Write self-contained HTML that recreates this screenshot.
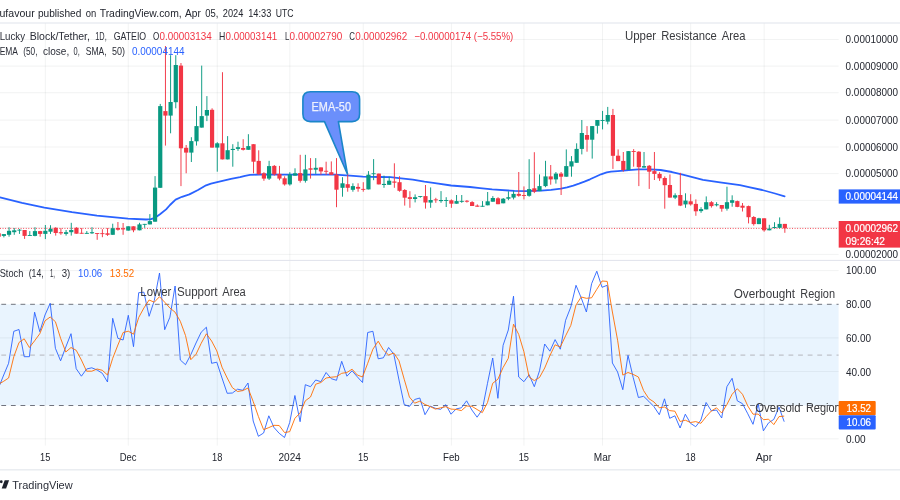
<!DOCTYPE html><html><head><meta charset="utf-8"><title>chart</title>
<style>html,body{margin:0;padding:0;background:#fff;}body{width:900px;height:500px;overflow:hidden;}svg{display:block;font-family:"Liberation Sans",sans-serif;}</style></head><body>
<svg width="900" height="500" viewBox="0 0 900 500">
<rect x="0" y="0" width="900" height="500" fill="#fff"/>
<defs><filter id="bl" x="-20" y="-20" width="940" height="540" filterUnits="userSpaceOnUse" color-interpolation-filters="sRGB"><feGaussianBlur stdDeviation="0.38"/></filter></defs>
<g filter="url(#bl)">
<rect x="-20" y="-20" width="940" height="540" fill="#fff"/>
<rect x="0" y="304.3" width="838.6" height="101.2" fill="#e9f4fe"/>
<rect x="44.84" y="23" width="1" height="422.6" fill="#2a2e39" fill-opacity="0.06"/>
<rect x="127.78" y="23" width="1" height="422.6" fill="#2a2e39" fill-opacity="0.06"/>
<rect x="216.76" y="23" width="1" height="422.6" fill="#2a2e39" fill-opacity="0.06"/>
<rect x="289.33" y="23" width="1" height="422.6" fill="#2a2e39" fill-opacity="0.06"/>
<rect x="362.76" y="23" width="1" height="422.6" fill="#2a2e39" fill-opacity="0.06"/>
<rect x="450.88" y="23" width="1" height="422.6" fill="#2a2e39" fill-opacity="0.06"/>
<rect x="523.45" y="23" width="1" height="422.6" fill="#2a2e39" fill-opacity="0.06"/>
<rect x="602.06" y="23" width="1" height="422.6" fill="#2a2e39" fill-opacity="0.06"/>
<rect x="690.18" y="23" width="1" height="422.6" fill="#2a2e39" fill-opacity="0.06"/>
<rect x="763.61" y="23" width="1" height="422.6" fill="#2a2e39" fill-opacity="0.06"/>
<rect x="0" y="39.00" width="838.6" height="1" fill="#2a2e39" fill-opacity="0.06"/>
<rect x="0" y="65.60" width="838.6" height="1" fill="#2a2e39" fill-opacity="0.06"/>
<rect x="0" y="92.20" width="838.6" height="1" fill="#2a2e39" fill-opacity="0.06"/>
<rect x="0" y="119.60" width="838.6" height="1" fill="#2a2e39" fill-opacity="0.06"/>
<rect x="0" y="146.50" width="838.6" height="1" fill="#2a2e39" fill-opacity="0.06"/>
<rect x="0" y="173.10" width="838.6" height="1" fill="#2a2e39" fill-opacity="0.06"/>
<rect x="0" y="199.90" width="838.6" height="1" fill="#2a2e39" fill-opacity="0.06"/>
<rect x="0" y="226.90" width="838.6" height="1" fill="#2a2e39" fill-opacity="0.06"/>
<rect x="0" y="253.90" width="838.6" height="1" fill="#2a2e39" fill-opacity="0.06"/>
<rect x="0" y="270.10" width="838.6" height="1" fill="#2a2e39" fill-opacity="0.06"/>
<rect x="0" y="337.40" width="838.6" height="1" fill="#2a2e39" fill-opacity="0.06"/>
<rect x="0" y="371.00" width="838.6" height="1" fill="#2a2e39" fill-opacity="0.06"/>
<rect x="0" y="438.30" width="838.6" height="1" fill="#2a2e39" fill-opacity="0.06"/>
<rect x="0" y="22.5" width="900" height="1" fill="#e0e3eb"/>
<rect x="0" y="259.9" width="900" height="1" fill="#e0e3eb"/>
<rect x="0" y="469.3" width="900" height="1.1" fill="#e2e5ec"/>
<line x1="1.3" y1="304.3" x2="838.6" y2="304.3" stroke="#70737e" stroke-width="1" stroke-dasharray="4.8 4.8"/>
<line x1="1.3" y1="405.5" x2="838.6" y2="405.5" stroke="#70737e" stroke-width="1" stroke-dasharray="4.8 4.8"/>
<line x1="1.3" y1="355.1" x2="838.6" y2="355.1" stroke="#b4b6bd" stroke-width="1" stroke-dasharray="4.8 4.8"/>
<line x1="0" y1="228.4" x2="838.6" y2="228.4" stroke="#f23645" stroke-width="1" stroke-dasharray="0.9 1.68"/>
<polyline points="-2.0,197.0 0.0,197.4 22.0,202.8 44.4,207.6 72.0,212.2 97.0,215.7 128.0,218.6 146.0,219.5 151.0,219.2 155.0,217.8 160.0,214.3 166.1,209.4 170.0,205.0 175.6,199.6 182.0,196.8 189.4,194.4 198.0,190.0 206.1,185.3 211.0,183.6 217.2,182.2 231.0,178.9 240.0,177.2 245.0,175.8 250.0,174.9 260.0,174.5 280.0,174.7 300.0,174.6 320.0,174.6 335.0,174.7 350.0,175.7 362.8,176.7 380.0,177.0 390.6,177.2 398.9,178.1 412.8,179.6 424.4,181.7 435.0,183.1 451.1,185.5 470.0,187.0 480.0,188.2 492.2,189.4 514.4,190.9 525.6,191.1 541.1,190.6 551.0,189.8 561.0,188.7 567.0,187.4 573.3,185.6 579.0,183.7 584.4,181.7 590.0,179.3 595.6,176.7 601.0,174.3 606.7,172.4 611.0,171.7 617.8,171.1 628.9,170.2 638.3,169.4 650.0,169.3 660.6,170.0 672.0,172.0 682.8,174.6 703.0,179.8 720.0,182.4 740.0,185.2 750.0,187.4 762.2,190.0 775.0,193.5 784.6,196.3" fill="none" stroke="#2962ff" stroke-width="1.8" stroke-linejoin="round" stroke-linecap="round"/>
<rect x="-1.79" y="233.3" width="0.95" height="3.4" fill="#f23645"/>
<rect x="-3.41" y="233.3" width="4.2" height="3.4" fill="#f23645"/>
<rect x="3.40" y="234.1" width="0.95" height="3.3" fill="#089981"/>
<rect x="1.77" y="234.1" width="4.2" height="1.8" fill="#089981"/>
<rect x="8.58" y="227.2" width="0.95" height="9.5" fill="#089981"/>
<rect x="6.96" y="230.8" width="4.2" height="4.0" fill="#089981"/>
<rect x="13.77" y="228.0" width="0.95" height="6.8" fill="#089981"/>
<rect x="12.14" y="230.3" width="4.2" height="1.9" fill="#089981"/>
<rect x="18.95" y="228.9" width="0.95" height="5.0" fill="#089981"/>
<rect x="17.32" y="229.7" width="4.2" height="0.9" fill="#089981"/>
<rect x="24.13" y="230.0" width="0.95" height="8.9" fill="#f23645"/>
<rect x="22.51" y="230.0" width="4.2" height="5.9" fill="#f23645"/>
<rect x="29.32" y="231.1" width="0.95" height="4.7" fill="#089981"/>
<rect x="27.69" y="235.0" width="4.2" height="0.9" fill="#089981"/>
<rect x="34.50" y="227.2" width="0.95" height="9.1" fill="#089981"/>
<rect x="32.87" y="231.1" width="4.2" height="4.8" fill="#089981"/>
<rect x="39.68" y="230.8" width="0.95" height="5.9" fill="#f23645"/>
<rect x="38.06" y="231.1" width="4.2" height="2.8" fill="#f23645"/>
<rect x="44.87" y="225.0" width="0.95" height="14.1" fill="#089981"/>
<rect x="43.24" y="230.8" width="4.2" height="3.1" fill="#089981"/>
<rect x="50.05" y="225.2" width="0.95" height="8.7" fill="#089981"/>
<rect x="48.43" y="228.9" width="4.2" height="2.8" fill="#089981"/>
<rect x="55.23" y="227.2" width="0.95" height="8.4" fill="#f23645"/>
<rect x="53.61" y="227.8" width="4.2" height="5.2" fill="#f23645"/>
<rect x="60.42" y="228.1" width="0.95" height="6.7" fill="#f23645"/>
<rect x="58.79" y="232.2" width="4.2" height="1.1" fill="#f23645"/>
<rect x="65.60" y="230.0" width="0.95" height="5.6" fill="#089981"/>
<rect x="63.98" y="232.2" width="4.2" height="1.7" fill="#089981"/>
<rect x="70.78" y="222.8" width="0.95" height="12.8" fill="#089981"/>
<rect x="69.16" y="230.0" width="4.2" height="2.2" fill="#089981"/>
<rect x="75.97" y="227.2" width="0.95" height="6.5" fill="#f23645"/>
<rect x="74.34" y="227.8" width="4.2" height="5.9" fill="#f23645"/>
<rect x="81.15" y="228.1" width="0.95" height="5.6" fill="#f23645"/>
<rect x="79.53" y="232.8" width="4.2" height="0.9" fill="#f23645"/>
<rect x="86.34" y="231.1" width="0.95" height="2.6" fill="#089981"/>
<rect x="84.71" y="232.9" width="4.2" height="0.9" fill="#089981"/>
<rect x="91.52" y="227.2" width="0.95" height="6.7" fill="#089981"/>
<rect x="89.89" y="232.2" width="4.2" height="1.1" fill="#089981"/>
<rect x="96.70" y="233.1" width="0.95" height="6.7" fill="#f23645"/>
<rect x="95.08" y="233.1" width="4.2" height="0.9" fill="#f23645"/>
<rect x="101.89" y="229.2" width="0.95" height="8.0" fill="#f23645"/>
<rect x="100.26" y="233.2" width="4.2" height="0.9" fill="#f23645"/>
<rect x="107.07" y="228.1" width="0.95" height="7.8" fill="#f23645"/>
<rect x="105.45" y="233.3" width="4.2" height="1.5" fill="#f23645"/>
<rect x="112.25" y="223.7" width="0.95" height="11.1" fill="#089981"/>
<rect x="110.63" y="228.3" width="4.2" height="6.5" fill="#089981"/>
<rect x="117.44" y="222.0" width="0.95" height="8.6" fill="#f23645"/>
<rect x="115.81" y="228.0" width="4.2" height="1.7" fill="#f23645"/>
<rect x="122.62" y="223.0" width="0.95" height="11.8" fill="#f23645"/>
<rect x="121.00" y="228.3" width="4.2" height="1.1" fill="#f23645"/>
<rect x="127.80" y="226.3" width="0.95" height="4.3" fill="#089981"/>
<rect x="126.18" y="226.3" width="4.2" height="4.3" fill="#089981"/>
<rect x="132.99" y="226.3" width="0.95" height="5.9" fill="#f23645"/>
<rect x="131.36" y="226.3" width="4.2" height="4.0" fill="#f23645"/>
<rect x="139.03" y="222.8" width="0.95" height="7.5" fill="#089981"/>
<rect x="137.40" y="224.4" width="4.2" height="5.9" fill="#089981"/>
<rect x="144.21" y="223.9" width="0.95" height="3.9" fill="#089981"/>
<rect x="142.59" y="223.9" width="4.2" height="0.9" fill="#089981"/>
<rect x="149.40" y="214.1" width="0.95" height="10.3" fill="#089981"/>
<rect x="147.77" y="221.1" width="4.2" height="3.3" fill="#089981"/>
<rect x="154.58" y="176.1" width="0.95" height="45.6" fill="#089981"/>
<rect x="152.96" y="187.6" width="4.2" height="34.1" fill="#089981"/>
<rect x="159.76" y="103.9" width="0.95" height="83.9" fill="#089981"/>
<rect x="158.14" y="106.1" width="4.2" height="81.7" fill="#089981"/>
<rect x="164.95" y="46.0" width="0.95" height="99.6" fill="#f23645"/>
<rect x="163.32" y="111.1" width="4.2" height="4.5" fill="#f23645"/>
<rect x="170.13" y="55.2" width="0.95" height="78.1" fill="#089981"/>
<rect x="168.51" y="102.0" width="4.2" height="13.6" fill="#089981"/>
<rect x="175.31" y="55.2" width="0.95" height="53.1" fill="#089981"/>
<rect x="173.69" y="65.0" width="4.2" height="37.2" fill="#089981"/>
<rect x="180.50" y="63.0" width="0.95" height="123.1" fill="#f23645"/>
<rect x="178.87" y="65.6" width="4.2" height="82.7" fill="#f23645"/>
<rect x="185.68" y="145.0" width="0.95" height="28.3" fill="#f23645"/>
<rect x="184.06" y="147.8" width="4.2" height="4.8" fill="#f23645"/>
<rect x="190.87" y="137.2" width="0.95" height="24.8" fill="#089981"/>
<rect x="189.24" y="141.1" width="4.2" height="11.5" fill="#089981"/>
<rect x="196.05" y="106.1" width="0.95" height="39.5" fill="#089981"/>
<rect x="194.42" y="126.1" width="4.2" height="15.2" fill="#089981"/>
<rect x="201.23" y="65.6" width="0.95" height="62.0" fill="#089981"/>
<rect x="199.61" y="116.1" width="4.2" height="11.5" fill="#089981"/>
<rect x="206.42" y="96.1" width="0.95" height="25.0" fill="#089981"/>
<rect x="204.79" y="110.0" width="4.2" height="5.6" fill="#089981"/>
<rect x="211.60" y="108.3" width="0.95" height="39.3" fill="#f23645"/>
<rect x="209.97" y="109.8" width="4.2" height="37.8" fill="#f23645"/>
<rect x="216.78" y="142.2" width="0.95" height="29.5" fill="#089981"/>
<rect x="215.16" y="143.3" width="4.2" height="4.3" fill="#089981"/>
<rect x="221.97" y="72.2" width="0.95" height="87.2" fill="#f23645"/>
<rect x="220.34" y="143.3" width="4.2" height="16.1" fill="#f23645"/>
<rect x="227.15" y="136.1" width="0.95" height="23.3" fill="#089981"/>
<rect x="225.53" y="150.2" width="4.2" height="9.2" fill="#089981"/>
<rect x="232.33" y="144.2" width="0.95" height="22.5" fill="#089981"/>
<rect x="230.71" y="148.9" width="4.2" height="1.1" fill="#089981"/>
<rect x="237.52" y="141.7" width="0.95" height="9.2" fill="#089981"/>
<rect x="235.89" y="147.2" width="4.2" height="1.7" fill="#089981"/>
<rect x="242.70" y="139.2" width="0.95" height="11.3" fill="#f23645"/>
<rect x="241.08" y="148.0" width="4.2" height="1.8" fill="#f23645"/>
<rect x="247.89" y="134.2" width="0.95" height="15.6" fill="#089981"/>
<rect x="246.26" y="146.1" width="4.2" height="3.7" fill="#089981"/>
<rect x="253.07" y="144.2" width="0.95" height="29.1" fill="#f23645"/>
<rect x="251.44" y="144.2" width="4.2" height="17.5" fill="#f23645"/>
<rect x="258.25" y="150.3" width="0.95" height="24.7" fill="#f23645"/>
<rect x="256.63" y="160.9" width="4.2" height="13.2" fill="#f23645"/>
<rect x="263.44" y="172.2" width="0.95" height="8.6" fill="#f23645"/>
<rect x="261.81" y="173.3" width="4.2" height="5.3" fill="#f23645"/>
<rect x="268.62" y="160.8" width="0.95" height="19.2" fill="#089981"/>
<rect x="266.99" y="166.1" width="4.2" height="12.5" fill="#089981"/>
<rect x="273.80" y="165.0" width="0.95" height="10.6" fill="#f23645"/>
<rect x="272.18" y="165.9" width="4.2" height="8.5" fill="#f23645"/>
<rect x="278.99" y="165.9" width="0.95" height="14.4" fill="#f23645"/>
<rect x="277.36" y="173.9" width="4.2" height="4.7" fill="#f23645"/>
<rect x="284.17" y="176.3" width="0.95" height="9.3" fill="#f23645"/>
<rect x="282.55" y="178.3" width="4.2" height="6.1" fill="#f23645"/>
<rect x="289.35" y="172.2" width="0.95" height="13.4" fill="#089981"/>
<rect x="287.73" y="174.4" width="4.2" height="10.0" fill="#089981"/>
<rect x="294.54" y="168.3" width="0.95" height="7.3" fill="#089981"/>
<rect x="292.91" y="173.3" width="4.2" height="2.3" fill="#089981"/>
<rect x="299.72" y="154.8" width="0.95" height="27.8" fill="#f23645"/>
<rect x="298.10" y="173.1" width="4.2" height="7.7" fill="#f23645"/>
<rect x="304.90" y="154.8" width="0.95" height="27.8" fill="#089981"/>
<rect x="303.28" y="169.4" width="4.2" height="11.4" fill="#089981"/>
<rect x="310.09" y="158.1" width="0.95" height="20.5" fill="#f23645"/>
<rect x="308.46" y="168.3" width="4.2" height="1.4" fill="#f23645"/>
<rect x="315.27" y="158.1" width="0.95" height="15.8" fill="#089981"/>
<rect x="313.65" y="167.8" width="4.2" height="1.9" fill="#089981"/>
<rect x="320.46" y="167.4" width="0.95" height="7.4" fill="#f23645"/>
<rect x="318.83" y="167.4" width="4.2" height="4.0" fill="#f23645"/>
<rect x="325.64" y="161.7" width="0.95" height="13.1" fill="#f23645"/>
<rect x="324.01" y="170.8" width="4.2" height="0.9" fill="#f23645"/>
<rect x="330.82" y="161.4" width="0.95" height="13.4" fill="#f23645"/>
<rect x="329.20" y="172.2" width="4.2" height="2.6" fill="#f23645"/>
<rect x="336.01" y="158.1" width="0.95" height="49.1" fill="#f23645"/>
<rect x="334.38" y="174.6" width="4.2" height="15.1" fill="#f23645"/>
<rect x="342.05" y="177.2" width="0.95" height="19.5" fill="#089981"/>
<rect x="340.42" y="183.3" width="4.2" height="4.5" fill="#089981"/>
<rect x="347.23" y="173.3" width="0.95" height="18.4" fill="#f23645"/>
<rect x="345.61" y="184.2" width="4.2" height="3.6" fill="#f23645"/>
<rect x="352.42" y="183.3" width="0.95" height="8.4" fill="#089981"/>
<rect x="350.79" y="186.1" width="4.2" height="3.7" fill="#089981"/>
<rect x="357.60" y="183.3" width="0.95" height="8.4" fill="#f23645"/>
<rect x="355.97" y="186.9" width="4.2" height="1.8" fill="#f23645"/>
<rect x="362.78" y="182.2" width="0.95" height="9.5" fill="#f23645"/>
<rect x="361.16" y="188.9" width="4.2" height="0.9" fill="#f23645"/>
<rect x="367.97" y="171.1" width="0.95" height="18.3" fill="#089981"/>
<rect x="366.34" y="174.7" width="4.2" height="14.7" fill="#089981"/>
<rect x="373.15" y="159.1" width="0.95" height="21.1" fill="#089981"/>
<rect x="371.52" y="173.3" width="4.2" height="0.9" fill="#089981"/>
<rect x="378.33" y="173.6" width="0.95" height="10.8" fill="#f23645"/>
<rect x="376.71" y="173.6" width="4.2" height="10.8" fill="#f23645"/>
<rect x="383.52" y="175.6" width="0.95" height="12.2" fill="#089981"/>
<rect x="381.89" y="183.9" width="4.2" height="1.1" fill="#089981"/>
<rect x="388.70" y="176.5" width="0.95" height="8.3" fill="#089981"/>
<rect x="387.08" y="180.7" width="4.2" height="4.1" fill="#089981"/>
<rect x="393.88" y="163.3" width="0.95" height="24.5" fill="#f23645"/>
<rect x="392.26" y="181.5" width="4.2" height="1.2" fill="#f23645"/>
<rect x="399.07" y="176.2" width="0.95" height="15.5" fill="#f23645"/>
<rect x="397.44" y="182.2" width="4.2" height="8.6" fill="#f23645"/>
<rect x="404.25" y="189.1" width="0.95" height="16.5" fill="#f23645"/>
<rect x="402.63" y="190.0" width="4.2" height="7.7" fill="#f23645"/>
<rect x="409.43" y="191.2" width="0.95" height="16.6" fill="#f23645"/>
<rect x="407.81" y="197.2" width="4.2" height="1.7" fill="#f23645"/>
<rect x="414.62" y="194.4" width="0.95" height="8.0" fill="#089981"/>
<rect x="412.99" y="197.2" width="4.2" height="1.8" fill="#089981"/>
<rect x="419.80" y="196.1" width="0.95" height="1.6" fill="#089981"/>
<rect x="418.18" y="196.1" width="4.2" height="0.9" fill="#089981"/>
<rect x="424.99" y="185.0" width="0.95" height="23.6" fill="#f23645"/>
<rect x="423.36" y="196.1" width="4.2" height="6.4" fill="#f23645"/>
<rect x="430.17" y="187.4" width="0.95" height="20.4" fill="#089981"/>
<rect x="428.54" y="200.0" width="4.2" height="2.6" fill="#089981"/>
<rect x="435.35" y="197.8" width="0.95" height="5.0" fill="#f23645"/>
<rect x="433.73" y="199.4" width="4.2" height="0.9" fill="#f23645"/>
<rect x="440.54" y="191.1" width="0.95" height="11.7" fill="#089981"/>
<rect x="438.91" y="200.0" width="4.2" height="1.1" fill="#089981"/>
<rect x="445.72" y="197.2" width="0.95" height="9.8" fill="#089981"/>
<rect x="444.09" y="200.0" width="4.2" height="0.9" fill="#089981"/>
<rect x="450.90" y="199.4" width="0.95" height="8.4" fill="#f23645"/>
<rect x="449.28" y="200.3" width="4.2" height="3.4" fill="#f23645"/>
<rect x="456.09" y="195.0" width="0.95" height="8.7" fill="#089981"/>
<rect x="454.46" y="201.1" width="4.2" height="2.6" fill="#089981"/>
<rect x="461.27" y="195.0" width="0.95" height="7.8" fill="#089981"/>
<rect x="459.65" y="200.9" width="4.2" height="0.9" fill="#089981"/>
<rect x="466.45" y="200.0" width="0.95" height="2.6" fill="#f23645"/>
<rect x="464.83" y="200.8" width="4.2" height="0.9" fill="#f23645"/>
<rect x="471.64" y="201.1" width="0.95" height="4.9" fill="#f23645"/>
<rect x="470.01" y="202.1" width="4.2" height="3.9" fill="#f23645"/>
<rect x="476.82" y="204.4" width="0.95" height="2.3" fill="#f23645"/>
<rect x="475.20" y="205.6" width="4.2" height="1.1" fill="#f23645"/>
<rect x="482.01" y="201.1" width="0.95" height="5.6" fill="#089981"/>
<rect x="480.38" y="205.8" width="4.2" height="0.9" fill="#089981"/>
<rect x="487.19" y="192.0" width="0.95" height="13.3" fill="#089981"/>
<rect x="485.56" y="201.3" width="4.2" height="4.0" fill="#089981"/>
<rect x="492.37" y="196.1" width="0.95" height="5.6" fill="#089981"/>
<rect x="490.75" y="198.0" width="4.2" height="3.7" fill="#089981"/>
<rect x="497.56" y="197.2" width="0.95" height="7.0" fill="#f23645"/>
<rect x="495.93" y="198.3" width="4.2" height="5.9" fill="#f23645"/>
<rect x="502.74" y="198.0" width="0.95" height="5.3" fill="#089981"/>
<rect x="501.11" y="198.7" width="4.2" height="4.6" fill="#089981"/>
<rect x="507.92" y="191.3" width="0.95" height="8.9" fill="#089981"/>
<rect x="506.30" y="197.2" width="4.2" height="1.5" fill="#089981"/>
<rect x="513.11" y="191.1" width="0.95" height="8.3" fill="#089981"/>
<rect x="511.48" y="193.9" width="4.2" height="3.7" fill="#089981"/>
<rect x="518.29" y="172.0" width="0.95" height="24.7" fill="#f23645"/>
<rect x="516.67" y="193.9" width="4.2" height="1.9" fill="#f23645"/>
<rect x="523.47" y="186.4" width="0.95" height="13.0" fill="#f23645"/>
<rect x="521.85" y="195.0" width="4.2" height="0.9" fill="#f23645"/>
<rect x="528.66" y="159.2" width="0.95" height="37.5" fill="#089981"/>
<rect x="527.03" y="189.1" width="4.2" height="6.7" fill="#089981"/>
<rect x="533.84" y="152.2" width="0.95" height="40.9" fill="#f23645"/>
<rect x="532.22" y="188.3" width="4.2" height="3.4" fill="#f23645"/>
<rect x="539.02" y="174.4" width="0.95" height="16.7" fill="#089981"/>
<rect x="537.40" y="186.1" width="4.2" height="5.0" fill="#089981"/>
<rect x="545.07" y="160.8" width="0.95" height="26.4" fill="#089981"/>
<rect x="543.44" y="176.4" width="4.2" height="9.7" fill="#089981"/>
<rect x="550.25" y="165.0" width="0.95" height="19.7" fill="#f23645"/>
<rect x="548.62" y="176.4" width="4.2" height="3.0" fill="#f23645"/>
<rect x="555.43" y="172.0" width="0.95" height="11.6" fill="#089981"/>
<rect x="553.81" y="173.6" width="4.2" height="5.8" fill="#089981"/>
<rect x="560.62" y="172.0" width="0.95" height="23.0" fill="#f23645"/>
<rect x="558.99" y="173.6" width="4.2" height="3.1" fill="#f23645"/>
<rect x="565.80" y="149.4" width="0.95" height="27.3" fill="#089981"/>
<rect x="564.18" y="166.1" width="4.2" height="10.6" fill="#089981"/>
<rect x="570.98" y="156.1" width="0.95" height="20.6" fill="#089981"/>
<rect x="569.36" y="161.3" width="4.2" height="5.2" fill="#089981"/>
<rect x="576.17" y="143.3" width="0.95" height="19.5" fill="#089981"/>
<rect x="574.54" y="148.9" width="4.2" height="13.9" fill="#089981"/>
<rect x="581.35" y="120.0" width="0.95" height="34.4" fill="#089981"/>
<rect x="579.73" y="133.0" width="4.2" height="15.9" fill="#089981"/>
<rect x="586.54" y="126.1" width="0.95" height="25.6" fill="#f23645"/>
<rect x="584.91" y="135.0" width="4.2" height="4.7" fill="#f23645"/>
<rect x="591.72" y="126.1" width="0.95" height="32.5" fill="#089981"/>
<rect x="590.09" y="126.1" width="4.2" height="13.6" fill="#089981"/>
<rect x="596.90" y="120.0" width="0.95" height="13.6" fill="#089981"/>
<rect x="595.28" y="120.0" width="4.2" height="5.8" fill="#089981"/>
<rect x="602.09" y="110.9" width="0.95" height="18.5" fill="#089981"/>
<rect x="600.46" y="120.0" width="4.2" height="0.9" fill="#089981"/>
<rect x="607.27" y="106.9" width="0.95" height="17.4" fill="#089981"/>
<rect x="605.64" y="115.0" width="4.2" height="6.6" fill="#089981"/>
<rect x="612.45" y="108.9" width="0.95" height="60.0" fill="#f23645"/>
<rect x="610.83" y="115.0" width="4.2" height="40.8" fill="#f23645"/>
<rect x="617.64" y="149.4" width="0.95" height="11.7" fill="#f23645"/>
<rect x="616.01" y="155.7" width="4.2" height="5.4" fill="#f23645"/>
<rect x="622.82" y="152.0" width="0.95" height="19.7" fill="#f23645"/>
<rect x="621.20" y="160.9" width="4.2" height="9.1" fill="#f23645"/>
<rect x="628.00" y="151.1" width="0.95" height="18.9" fill="#089981"/>
<rect x="626.38" y="151.1" width="4.2" height="18.9" fill="#089981"/>
<rect x="633.19" y="149.1" width="0.95" height="17.6" fill="#f23645"/>
<rect x="631.56" y="151.1" width="4.2" height="0.9" fill="#f23645"/>
<rect x="638.37" y="151.1" width="0.95" height="35.0" fill="#f23645"/>
<rect x="636.75" y="151.7" width="4.2" height="15.5" fill="#f23645"/>
<rect x="643.55" y="152.0" width="0.95" height="15.6" fill="#089981"/>
<rect x="641.93" y="166.1" width="4.2" height="1.5" fill="#089981"/>
<rect x="648.74" y="165.0" width="0.95" height="23.9" fill="#f23645"/>
<rect x="647.11" y="165.8" width="4.2" height="5.9" fill="#f23645"/>
<rect x="653.92" y="152.0" width="0.95" height="28.0" fill="#f23645"/>
<rect x="652.30" y="171.1" width="4.2" height="2.8" fill="#f23645"/>
<rect x="659.11" y="172.2" width="0.95" height="8.7" fill="#f23645"/>
<rect x="657.48" y="173.9" width="4.2" height="4.4" fill="#f23645"/>
<rect x="664.29" y="176.4" width="0.95" height="32.3" fill="#f23645"/>
<rect x="662.66" y="178.0" width="4.2" height="7.2" fill="#f23645"/>
<rect x="669.47" y="174.4" width="0.95" height="23.2" fill="#f23645"/>
<rect x="667.85" y="185.0" width="4.2" height="12.6" fill="#f23645"/>
<rect x="674.66" y="193.3" width="0.95" height="5.8" fill="#089981"/>
<rect x="673.03" y="195.3" width="4.2" height="2.3" fill="#089981"/>
<rect x="679.84" y="172.8" width="0.95" height="33.3" fill="#f23645"/>
<rect x="678.21" y="195.0" width="4.2" height="10.6" fill="#f23645"/>
<rect x="685.02" y="193.3" width="0.95" height="14.5" fill="#089981"/>
<rect x="683.40" y="200.6" width="4.2" height="3.8" fill="#089981"/>
<rect x="690.21" y="194.2" width="0.95" height="11.4" fill="#f23645"/>
<rect x="688.58" y="201.3" width="4.2" height="3.1" fill="#f23645"/>
<rect x="695.39" y="199.4" width="0.95" height="16.4" fill="#f23645"/>
<rect x="693.77" y="203.9" width="4.2" height="7.4" fill="#f23645"/>
<rect x="700.57" y="207.2" width="0.95" height="5.6" fill="#089981"/>
<rect x="698.95" y="209.1" width="4.2" height="2.0" fill="#089981"/>
<rect x="705.76" y="196.4" width="0.95" height="13.0" fill="#089981"/>
<rect x="704.13" y="202.2" width="4.2" height="7.2" fill="#089981"/>
<rect x="710.94" y="201.1" width="0.95" height="6.5" fill="#f23645"/>
<rect x="709.32" y="202.2" width="4.2" height="3.9" fill="#f23645"/>
<rect x="716.13" y="202.2" width="0.95" height="4.2" fill="#089981"/>
<rect x="714.50" y="204.2" width="4.2" height="1.1" fill="#089981"/>
<rect x="721.31" y="205.0" width="0.95" height="6.7" fill="#f23645"/>
<rect x="719.68" y="205.0" width="4.2" height="3.7" fill="#f23645"/>
<rect x="726.49" y="186.7" width="0.95" height="23.9" fill="#089981"/>
<rect x="724.87" y="202.2" width="4.2" height="6.5" fill="#089981"/>
<rect x="731.68" y="195.3" width="0.95" height="11.4" fill="#089981"/>
<rect x="730.05" y="200.2" width="4.2" height="2.6" fill="#089981"/>
<rect x="736.86" y="200.6" width="0.95" height="6.6" fill="#f23645"/>
<rect x="735.23" y="201.1" width="4.2" height="5.8" fill="#f23645"/>
<rect x="742.04" y="203.0" width="0.95" height="8.5" fill="#f23645"/>
<rect x="740.42" y="205.7" width="4.2" height="2.0" fill="#f23645"/>
<rect x="748.08" y="205.6" width="0.95" height="17.8" fill="#f23645"/>
<rect x="746.46" y="206.1" width="4.2" height="11.1" fill="#f23645"/>
<rect x="753.27" y="216.1" width="0.95" height="9.5" fill="#f23645"/>
<rect x="751.64" y="217.0" width="4.2" height="7.1" fill="#f23645"/>
<rect x="758.45" y="217.8" width="0.95" height="6.3" fill="#089981"/>
<rect x="756.83" y="218.3" width="4.2" height="5.8" fill="#089981"/>
<rect x="763.64" y="218.3" width="0.95" height="13.4" fill="#f23645"/>
<rect x="762.01" y="218.3" width="4.2" height="12.0" fill="#f23645"/>
<rect x="768.82" y="224.8" width="0.95" height="5.5" fill="#089981"/>
<rect x="767.19" y="228.6" width="4.2" height="1.7" fill="#089981"/>
<rect x="774.00" y="222.2" width="0.95" height="5.9" fill="#089981"/>
<rect x="772.38" y="227.0" width="4.2" height="1.1" fill="#089981"/>
<rect x="779.19" y="217.4" width="0.95" height="10.9" fill="#089981"/>
<rect x="777.56" y="223.9" width="4.2" height="3.9" fill="#089981"/>
<rect x="784.37" y="223.9" width="0.95" height="8.9" fill="#f23645"/>
<rect x="782.74" y="223.9" width="4.2" height="4.4" fill="#f23645"/>
<clipPath id="sp"><rect x="0" y="261" width="838.6" height="180"/></clipPath>
<g clip-path="url(#sp)"><polyline points="-1.9,389.0 3.3,376.0 8.6,363.3 13.8,331.3 19.0,329.5 24.2,356.7 29.4,356.7 34.6,312.2 39.8,331.7 45.0,315.0 50.2,303.3 55.4,348.3 60.6,360.8 65.8,347.0 71.0,333.7 76.2,368.7 81.4,376.2 86.6,369.0 91.8,367.8 97.1,370.0 102.3,373.3 107.5,382.0 112.7,318.3 117.9,338.3 123.1,340.0 128.3,315.3 133.5,346.7 138.7,292.7 143.9,292.2 149.1,316.3 154.3,300.5 159.5,273.0 164.7,329.7 169.9,317.2 175.1,286.0 180.3,360.0 185.5,364.7 190.8,354.7 196.0,343.0 201.2,332.2 206.4,327.2 211.6,363.3 216.8,362.2 222.0,378.0 227.2,393.3 232.4,393.0 237.6,389.2 242.8,390.3 248.0,383.0 253.2,421.0 258.4,436.3 263.6,433.0 268.8,415.8 274.0,427.5 279.2,433.3 284.5,437.5 289.7,422.5 294.9,395.5 300.1,421.7 305.3,384.7 310.5,386.7 315.7,380.0 320.9,381.7 326.1,372.5 331.3,378.7 336.5,380.3 341.7,361.3 346.9,376.2 352.1,370.8 357.3,376.8 362.5,382.5 367.7,332.5 372.9,331.3 378.2,358.8 383.4,357.8 388.6,347.5 393.8,354.2 399.0,380.0 404.2,404.5 409.4,406.5 414.6,399.5 419.8,398.0 425.0,414.7 430.2,406.1 435.4,408.3 440.6,409.4 445.8,404.7 451.0,414.2 456.2,408.9 461.4,407.8 466.6,400.8 471.9,410.0 477.1,417.2 482.3,409.6 487.5,383.3 492.7,358.0 497.9,398.3 503.1,345.3 508.3,330.0 513.5,296.2 518.7,377.0 523.9,381.7 529.1,374.7 534.3,386.7 539.5,370.8 544.7,344.0 549.9,351.2 555.1,339.6 560.3,349.2 565.6,320.3 570.8,307.0 576.0,285.3 581.2,297.8 586.4,312.0 591.6,283.7 596.8,271.2 602.0,287.3 607.2,285.3 612.4,363.0 617.6,372.0 622.8,389.7 628.0,355.3 633.2,377.5 638.4,397.5 643.6,396.3 648.8,401.3 654.0,406.7 659.3,414.7 664.5,398.8 669.7,418.3 674.9,415.8 680.1,428.0 685.3,414.2 690.5,423.3 695.7,426.7 700.9,420.0 706.1,402.5 711.3,410.8 716.5,410.0 721.7,418.0 726.9,386.7 732.1,378.3 737.3,400.8 742.5,403.7 747.8,413.8 753.0,424.3 758.2,404.0 763.4,430.8 768.6,422.8 773.8,419.4 779.0,407.2 784.2,421.7" fill="none" stroke="#2962ff" stroke-width="0.9" stroke-linejoin="round"/>
<polyline points="-1.9,384.5 3.3,381.5 8.6,378.0 13.8,356.7 19.0,342.5 24.2,338.8 29.4,347.5 34.6,340.8 39.8,333.7 45.0,320.8 50.2,317.0 55.4,321.7 60.6,338.3 65.8,352.0 71.0,347.5 76.2,350.3 81.4,360.0 86.6,371.2 91.8,371.2 97.1,369.0 102.3,370.3 107.5,375.0 112.7,358.3 117.9,345.0 123.1,332.5 128.3,331.2 133.5,334.2 138.7,317.5 143.9,308.0 149.1,300.0 154.3,302.2 159.5,296.7 164.7,302.2 169.9,308.0 175.1,312.2 180.3,321.3 185.5,335.5 190.8,359.7 196.0,354.3 201.2,343.3 206.4,333.8 211.6,341.0 216.8,350.9 222.0,367.2 227.2,378.0 232.4,387.7 237.6,391.5 242.8,390.6 248.0,388.0 253.2,401.5 258.4,416.5 263.6,429.7 268.8,427.6 274.0,425.3 279.2,425.5 284.5,432.5 289.7,431.7 294.9,418.3 300.1,413.0 305.3,400.8 310.5,397.0 315.7,384.2 320.9,382.5 326.1,378.0 331.3,377.2 336.5,376.7 341.7,373.3 346.9,372.5 352.1,369.2 357.3,375.0 362.5,377.0 367.7,363.3 372.9,349.2 378.2,341.2 383.4,350.0 388.6,355.0 393.8,353.0 399.0,360.8 404.2,379.2 409.4,397.0 414.6,403.2 419.8,401.2 425.0,404.5 430.2,406.6 435.4,409.1 440.6,407.8 445.8,406.7 451.0,409.1 456.2,409.4 461.4,410.6 466.6,406.0 471.9,406.3 477.1,409.5 482.3,412.6 487.5,402.5 492.7,383.3 497.9,379.2 503.1,367.5 508.3,358.3 513.5,324.2 518.7,334.4 523.9,351.7 529.1,377.0 534.3,380.6 539.5,377.5 544.7,368.0 549.9,355.6 555.1,344.8 560.3,347.0 565.6,335.8 570.8,325.4 576.0,305.0 581.2,297.0 586.4,298.3 591.6,297.8 596.8,289.3 602.0,281.0 607.2,281.4 612.4,312.0 617.6,340.2 622.8,375.1 628.0,372.5 633.2,374.4 638.4,377.0 643.6,390.6 648.8,398.6 654.0,402.0 659.3,407.8 664.5,407.0 669.7,410.6 674.9,411.2 680.1,421.5 685.3,420.2 690.5,422.5 695.7,421.6 700.9,423.3 706.1,416.7 711.3,411.0 716.5,407.8 721.7,413.0 726.9,404.5 732.1,394.3 737.3,388.7 742.5,394.3 747.8,406.0 753.0,414.2 758.2,414.1 763.4,419.7 768.6,419.2 773.8,424.6 779.0,416.6 784.2,416.1" fill="none" stroke="#ff6d00" stroke-width="0.9" stroke-linejoin="round"/></g>
<path d="M310.4,91.8 H352.1 Q359.6,91.8 359.6,99.3 V114.1 Q359.6,121.6 352.1,121.6 H338.4 L347.4,174 L324.5,121.6 H310.4 Q302.9,121.6 302.9,114.1 V99.3 Q302.9,91.8 310.4,91.8 Z" fill="#6b8ffb" stroke="#1b86c9" stroke-width="1.6" stroke-linejoin="round"/>
<text x="311.6" y="110.8" font-size="12.2" fill="#eef1fd" font-weight="normal" textLength="39.4" lengthAdjust="spacingAndGlyphs" stroke="#eef1fd" stroke-width="0.25">EMA-50</text>
<text x="-0.5" y="16.5" font-size="11" fill="#23262f" font-weight="normal" textLength="35.2" lengthAdjust="spacingAndGlyphs" >ufavour</text>
<text x="38.0" y="16.5" font-size="11" fill="#23262f" font-weight="normal" textLength="43.3" lengthAdjust="spacingAndGlyphs" >published</text>
<text x="85.8" y="16.5" font-size="11" fill="#23262f" font-weight="normal" textLength="10.5" lengthAdjust="spacingAndGlyphs" >on</text>
<text x="99.7" y="16.5" font-size="11" fill="#23262f" font-weight="normal" textLength="82.0" lengthAdjust="spacingAndGlyphs" >TradingView.com,</text>
<text x="185.0" y="16.5" font-size="11" fill="#23262f" font-weight="normal" textLength="15.8" lengthAdjust="spacingAndGlyphs" >Apr</text>
<text x="205.2" y="16.5" font-size="11" fill="#23262f" font-weight="normal" textLength="13.1" lengthAdjust="spacingAndGlyphs" >05,</text>
<text x="222.8" y="16.5" font-size="11" fill="#23262f" font-weight="normal" textLength="20.5" lengthAdjust="spacingAndGlyphs" >2024</text>
<text x="248.2" y="16.5" font-size="11" fill="#23262f" font-weight="normal" textLength="23.1" lengthAdjust="spacingAndGlyphs" >14:33</text>
<text x="275.8" y="16.5" font-size="11" fill="#23262f" font-weight="normal" textLength="17.8" lengthAdjust="spacingAndGlyphs" >UTC</text>
<text x="-0.3" y="39.6" font-size="10.4" fill="#2a2d37" font-weight="normal" textLength="25.3" lengthAdjust="spacingAndGlyphs" >Lucky</text>
<text x="29.7" y="39.6" font-size="10.4" fill="#2a2d37" font-weight="normal" textLength="60.3" lengthAdjust="spacingAndGlyphs" >Block/Tether,</text>
<text x="95.2" y="39.6" font-size="10.4" fill="#2a2d37" font-weight="normal" textLength="11.5" lengthAdjust="spacingAndGlyphs" >1D,</text>
<text x="113.7" y="39.6" font-size="10.4" fill="#2a2d37" font-weight="normal" textLength="32.5" lengthAdjust="spacingAndGlyphs" >GATEIO</text>
<text x="153.0" y="39.6" font-size="10.4" fill="#2a2d37" font-weight="normal" textLength="6.3" lengthAdjust="spacingAndGlyphs" >O</text>
<text x="159.5" y="39.6" font-size="10.4" fill="#f23645" font-weight="normal" textLength="52.2" lengthAdjust="spacingAndGlyphs" >0.00003134</text>
<text x="219.0" y="39.6" font-size="10.4" fill="#2a2d37" font-weight="normal" textLength="6.3" lengthAdjust="spacingAndGlyphs" >H</text>
<text x="225.5" y="39.6" font-size="10.4" fill="#f23645" font-weight="normal" textLength="51.8" lengthAdjust="spacingAndGlyphs" >0.00003141</text>
<text x="285.0" y="39.6" font-size="10.4" fill="#2a2d37" font-weight="normal" textLength="4.3" lengthAdjust="spacingAndGlyphs" >L</text>
<text x="289.6" y="39.6" font-size="10.4" fill="#f23645" font-weight="normal" textLength="52.7" lengthAdjust="spacingAndGlyphs" >0.00002790</text>
<text x="349.3" y="39.6" font-size="10.4" fill="#2a2d37" font-weight="normal" textLength="5.7" lengthAdjust="spacingAndGlyphs" >C</text>
<text x="355.3" y="39.6" font-size="10.4" fill="#f23645" font-weight="normal" textLength="52.0" lengthAdjust="spacingAndGlyphs" >0.00002962</text>
<text x="414.3" y="39.6" font-size="10.4" fill="#f23645" font-weight="normal" textLength="99.0" lengthAdjust="spacingAndGlyphs" >&#8722;0.00000174 (&#8722;5.55%)</text>
<text x="-0.3" y="54.7" font-size="10.4" fill="#2a2d37" font-weight="normal" textLength="18.3" lengthAdjust="spacingAndGlyphs" >EMA</text>
<text x="23.3" y="54.7" font-size="10.4" fill="#2a2d37" font-weight="normal" textLength="14.2" lengthAdjust="spacingAndGlyphs" >(50,</text>
<text x="43.0" y="54.7" font-size="10.4" fill="#2a2d37" font-weight="normal" textLength="26.2" lengthAdjust="spacingAndGlyphs" >close,</text>
<text x="73.5" y="54.7" font-size="10.4" fill="#2a2d37" font-weight="normal" textLength="6.2" lengthAdjust="spacingAndGlyphs" >0,</text>
<text x="85.8" y="54.7" font-size="10.4" fill="#2a2d37" font-weight="normal" textLength="20.9" lengthAdjust="spacingAndGlyphs" >SMA,</text>
<text x="112.0" y="54.7" font-size="10.4" fill="#2a2d37" font-weight="normal" textLength="13.0" lengthAdjust="spacingAndGlyphs" >50)</text>
<text x="132.0" y="54.7" font-size="10.4" fill="#2962ff" font-weight="normal" textLength="52.5" lengthAdjust="spacingAndGlyphs" >0.00004144</text>
<text x="-0.3" y="276.7" font-size="10.4" fill="#2a2d37" font-weight="normal" textLength="23.6" lengthAdjust="spacingAndGlyphs" >Stoch</text>
<text x="28.7" y="276.7" font-size="10.4" fill="#2a2d37" font-weight="normal" textLength="15.0" lengthAdjust="spacingAndGlyphs" >(14,</text>
<text x="50.0" y="276.7" font-size="10.4" fill="#2a2d37" font-weight="normal" textLength="5.0" lengthAdjust="spacingAndGlyphs" >1,</text>
<text x="61.7" y="276.7" font-size="10.4" fill="#2a2d37" font-weight="normal" textLength="8.6" lengthAdjust="spacingAndGlyphs" >3)</text>
<text x="78.0" y="276.7" font-size="10.4" fill="#2962ff" font-weight="normal" textLength="24.2" lengthAdjust="spacingAndGlyphs" >10.06</text>
<text x="109.7" y="276.7" font-size="10.4" fill="#ff6d00" font-weight="normal" textLength="24.5" lengthAdjust="spacingAndGlyphs" >13.52</text>
<text x="625.0" y="39.7" font-size="12.3" fill="#3a3b3f" font-weight="normal" textLength="31.1" lengthAdjust="spacingAndGlyphs" >Upper</text>
<text x="661.2" y="39.7" font-size="12.3" fill="#3a3b3f" font-weight="normal" textLength="55.6" lengthAdjust="spacingAndGlyphs" >Resistance</text>
<text x="721.7" y="39.7" font-size="12.3" fill="#3a3b3f" font-weight="normal" textLength="23.7" lengthAdjust="spacingAndGlyphs" >Area</text>
<text x="140.3" y="296.0" font-size="12.3" fill="#3a3b3f" font-weight="normal" textLength="31.0" lengthAdjust="spacingAndGlyphs" >Lower</text>
<text x="177.0" y="296.0" font-size="12.3" fill="#3a3b3f" font-weight="normal" textLength="40.5" lengthAdjust="spacingAndGlyphs" >Support</text>
<text x="222.3" y="296.0" font-size="12.3" fill="#3a3b3f" font-weight="normal" textLength="23.5" lengthAdjust="spacingAndGlyphs" >Area</text>
<text x="733.7" y="298.3" font-size="12.3" fill="#3a3b3f" font-weight="normal" textLength="61.3" lengthAdjust="spacingAndGlyphs" >Overbought</text>
<text x="800.3" y="298.3" font-size="12.3" fill="#3a3b3f" font-weight="normal" textLength="34.7" lengthAdjust="spacingAndGlyphs" >Region</text>
<clipPath id="pc"><rect x="0" y="380" width="838.6" height="60"/></clipPath>
<text x="755.3" y="411.7" font-size="12.3" fill="#3a3b3f" font-weight="normal" textLength="45.3" lengthAdjust="spacingAndGlyphs" clip-path="url(#pc)">Oversold</text>
<text x="805.9" y="411.7" font-size="12.3" fill="#3a3b3f" font-weight="normal" textLength="34.7" lengthAdjust="spacingAndGlyphs" clip-path="url(#pc)">Region</text>
<text x="845.6" y="43.2" font-size="10.4" fill="#23262f" font-weight="normal" textLength="52.4" lengthAdjust="spacingAndGlyphs" >0.00010000</text>
<text x="845.6" y="69.8" font-size="10.4" fill="#23262f" font-weight="normal" textLength="52.4" lengthAdjust="spacingAndGlyphs" >0.00009000</text>
<text x="845.6" y="96.4" font-size="10.4" fill="#23262f" font-weight="normal" textLength="52.4" lengthAdjust="spacingAndGlyphs" >0.00008000</text>
<text x="845.6" y="123.8" font-size="10.4" fill="#23262f" font-weight="normal" textLength="52.4" lengthAdjust="spacingAndGlyphs" >0.00007000</text>
<text x="845.6" y="150.7" font-size="10.4" fill="#23262f" font-weight="normal" textLength="52.4" lengthAdjust="spacingAndGlyphs" >0.00006000</text>
<text x="845.6" y="177.3" font-size="10.4" fill="#23262f" font-weight="normal" textLength="52.4" lengthAdjust="spacingAndGlyphs" >0.00005000</text>
<text x="845.6" y="258.0" font-size="10.4" fill="#23262f" font-weight="normal" textLength="52.4" lengthAdjust="spacingAndGlyphs" >0.00002000</text>
<text x="846.0" y="274.0" font-size="10.4" fill="#23262f" font-weight="normal" textLength="30.4" lengthAdjust="spacingAndGlyphs" >100.00</text>
<text x="846.0" y="308.0" font-size="10.4" fill="#23262f" font-weight="normal" textLength="25.0" lengthAdjust="spacingAndGlyphs" >80.00</text>
<text x="846.0" y="341.9" font-size="10.4" fill="#23262f" font-weight="normal" textLength="25.0" lengthAdjust="spacingAndGlyphs" >60.00</text>
<text x="846.0" y="375.8" font-size="10.4" fill="#23262f" font-weight="normal" textLength="25.0" lengthAdjust="spacingAndGlyphs" >40.00</text>
<text x="846.0" y="442.9" font-size="10.4" fill="#23262f" font-weight="normal" textLength="19.6" lengthAdjust="spacingAndGlyphs" >0.00</text>
<rect x="838.7" y="189.4" width="61.3" height="14.2" fill="#2962ff"/>
<text x="845.6" y="200.2" font-size="10.4" fill="#fff" font-weight="normal" textLength="52.4" lengthAdjust="spacingAndGlyphs" stroke="#fff" stroke-width="0.2">0.00004144</text>
<rect x="838.7" y="221" width="61.3" height="26.6" fill="#f23645"/>
<text x="845.6" y="232.3" font-size="10.4" fill="#fff" font-weight="normal" textLength="52.4" lengthAdjust="spacingAndGlyphs" stroke="#fff" stroke-width="0.2">0.00002962</text>
<text x="845.6" y="244.7" font-size="10.4" fill="#fff" font-weight="normal" textLength="39.4" lengthAdjust="spacingAndGlyphs" stroke="#fff" stroke-width="0.2">09:26:42</text>
<rect x="838.7" y="401" width="37" height="14.3" rx="1" fill="#ff6d00"/>
<text x="846.6" y="412.0" font-size="10.4" fill="#fff" font-weight="normal" textLength="24.4" lengthAdjust="spacingAndGlyphs" stroke="#fff" stroke-width="0.2">13.52</text>
<rect x="838.7" y="415.3" width="37" height="14.3" rx="1" fill="#2962ff"/>
<text x="846.6" y="426.2" font-size="10.4" fill="#fff" font-weight="normal" textLength="24.4" lengthAdjust="spacingAndGlyphs" stroke="#fff" stroke-width="0.2">10.06</text>
<text x="40.1" y="461.4" font-size="10.4" fill="#23262f" font-weight="normal" textLength="10.3" lengthAdjust="spacingAndGlyphs" >15</text>
<text x="119.8" y="461.4" font-size="10.4" fill="#23262f" font-weight="normal" textLength="16.8" lengthAdjust="spacingAndGlyphs" >Dec</text>
<text x="212.0" y="461.4" font-size="10.4" fill="#23262f" font-weight="normal" textLength="10.3" lengthAdjust="spacingAndGlyphs" >18</text>
<text x="278.5" y="461.4" font-size="10.4" fill="#23262f" font-weight="normal" textLength="22.5" lengthAdjust="spacingAndGlyphs" >2024</text>
<text x="358.0" y="461.4" font-size="10.4" fill="#23262f" font-weight="normal" textLength="10.3" lengthAdjust="spacingAndGlyphs" >15</text>
<text x="443.0" y="461.4" font-size="10.4" fill="#23262f" font-weight="normal" textLength="16.6" lengthAdjust="spacingAndGlyphs" >Feb</text>
<text x="518.7" y="461.4" font-size="10.4" fill="#23262f" font-weight="normal" textLength="10.3" lengthAdjust="spacingAndGlyphs" >15</text>
<text x="593.8" y="461.4" font-size="10.4" fill="#23262f" font-weight="normal" textLength="17.4" lengthAdjust="spacingAndGlyphs" >Mar</text>
<text x="685.4" y="461.4" font-size="10.4" fill="#23262f" font-weight="normal" textLength="10.3" lengthAdjust="spacingAndGlyphs" >18</text>
<text x="755.7" y="461.4" font-size="10.4" fill="#23262f" font-weight="normal" textLength="16.6" lengthAdjust="spacingAndGlyphs" >Apr</text>
<g fill="#1e222d"><circle cx="1.25" cy="481.75" r="1.4"/><path d="M4.7,480.2 H9.1 L6.1,488.4 H1.7 Z"/></g>
<text x="12.2" y="488.5" font-size="11.6" fill="#2a2e39" font-weight="normal" textLength="60.5" lengthAdjust="spacingAndGlyphs" >TradingView</text>
</g></svg></body></html>
